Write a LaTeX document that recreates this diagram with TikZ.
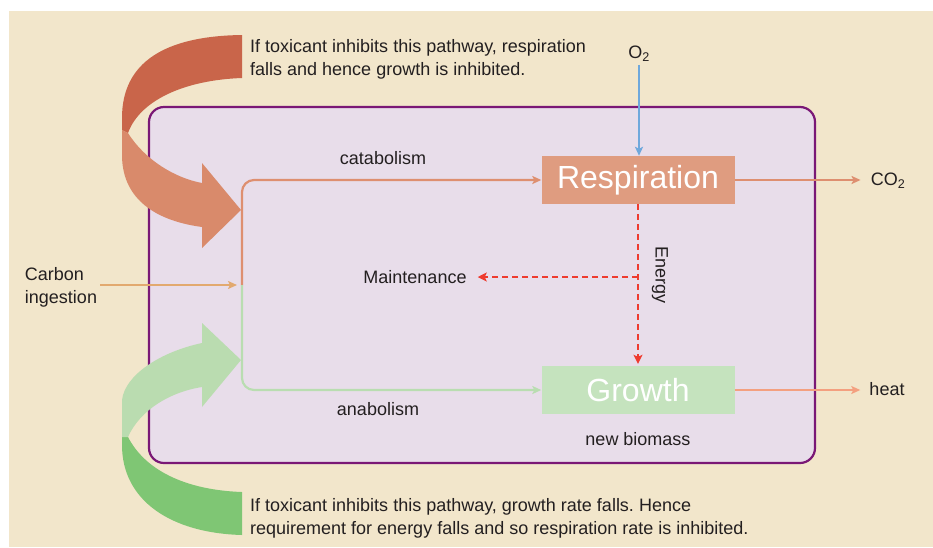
\documentclass[tikz,border=0pt]{standalone}
\usepackage{fontspec}
\setmainfont{Liberation Sans}
\usetikzlibrary{arrows.meta}
\frenchspacing
\definecolor{bg}{HTML}{F2E6CB}
\definecolor{cellfill}{HTML}{E8DDEA}
\definecolor{cellline}{HTML}{7A1876}
\definecolor{respfill}{HTML}{DF9C80}
\definecolor{growfill}{HTML}{C5E3BE}
\definecolor{catline}{HTML}{DE8F70}
\definecolor{analine}{HTML}{B9DDB1}
\definecolor{carbline}{HTML}{E2A96F}
\definecolor{oxline}{HTML}{6FA8DC}
\definecolor{heatline}{HTML}{F4A080}
\definecolor{energyred}{HTML}{EE3B2F}
\definecolor{topdark}{HTML}{C9654A}
\definecolor{toplight}{HTML}{D98A6B}
\definecolor{botdark}{HTML}{7FC674}
\definecolor{botlight}{HTML}{BADCB0}
\definecolor{txt}{HTML}{231F20}
\tikzset{
  tip/.style={-{Stealth[length=9pt,width=8pt,inset=2pt]}},
  procbox/.style={minimum width=193pt, minimum height=48pt, text=white,
    font=\fontsize{32}{38}\selectfont},
  flowline/.style={tip, line width=2.2pt},
  energyline/.style={-{Stealth[length=9pt,width=9pt,inset=2pt]}, energyred, line width=2.2pt, dash pattern=on 6pt off 4pt},
}
\begin{document}
\begin{tikzpicture}[x=1pt,y=-1pt,
  every node/.style={text=txt, font=\fontsize{18}{23}\selectfont, inner sep=0pt}]
\useasboundingbox (0,0) rectangle (933,547);
\fill[bg] (9,11) rectangle (933,547);
\draw[cellline, fill=cellfill, line width=2.2pt, rounded corners=15pt] (149,107) rectangle (815,463);

% process boxes
\node[procbox, fill=respfill] (resp) at (638,180) {Respiration};
\node[procbox, fill=growfill] (growth) at (638,390) {Growth};

% labels
\node (o2) at (639,54) {O\textsubscript{2}};
\node (co2) at (888,181) {CO\textsubscript{2}};
\node (heat) at (887,389) {heat};
\node (catlbl) at (383,158) {catabolism};
\node (analbl) at (378,409) {anabolism};
\node (maint) at (415,277) {Maintenance};
\node (biomass) at (638,439) {new biomass};
\node[rotate=-90] (energylbl) at (660,275) {Energy};
\node[align=left] (carbon) at (61,287) {Carbon\\ingestion};
\coordinate (junc) at (242,285);

% connectors
\draw[flowline, oxline, line width=2pt, shorten <=3pt] (o2.south) -- (o2.south |- resp.north);
\draw[flowline, catline, shorten >=10pt] (resp.east) -- (resp.east -| co2.west);
\draw[flowline, heatline, shorten >=9pt] (growth.east) -- (growth.east -| heat.west);
\draw[flowline, catline, rounded corners=12pt] (junc) |- (resp.west);
\draw[flowline, analine, rounded corners=12pt] (junc) |- (growth.west);
\draw[flowline, carbline, line width=2pt] ([xshift=3pt]carbon.east |- junc) -- ([xshift=-5pt]junc);
\draw[energyline, shorten >=2pt] (resp.south) -- (growth.north);
\draw[energyline, shorten >=11pt] (resp.south |- maint.east) -- (maint.east);

% top curved arrow
\fill[topdark] (242,35) -- (242,78) .. controls (185,80) and (140,100) .. (128,133)
  -- (122,130) -- (122,118) .. controls (122,62) and (165,36) .. (242,35) -- cycle;
\fill[toplight] (122,130) -- (128,133) .. controls (145,160) and (175,178) .. (202,183)
  -- (202,163) -- (241,210) -- (202,248) -- (202,227)
  .. controls (150,220) and (122,195) .. (122,155) -- cycle;

% bottom curved arrow
\fill[botdark] (122,435) -- (128,437) .. controls (145,470) and (185,490) .. (242,492)
  -- (242,535) .. controls (170,533) and (122,500) .. (122,445) -- cycle;
\fill[botlight] (202,343) -- (202,323) -- (241,360) -- (202,407) -- (202,387)
  .. controls (170,392) and (140,410) .. (128,437) -- (122,437) -- (122,400)
  .. controls (125,375) and (160,352) .. (202,343) -- cycle;

% notes
\node[anchor=west, align=left] (topnote) at (250,59)
  {If toxicant inhibits this pathway, respiration\\falls and hence growth is inhibited.};
\node[anchor=west, align=left] (botnote) at (250,518)
  {If toxicant inhibits this pathway, growth rate falls. Hence\\requirement for energy falls and so respiration rate is inhibited.};
\end{tikzpicture}
\end{document}
